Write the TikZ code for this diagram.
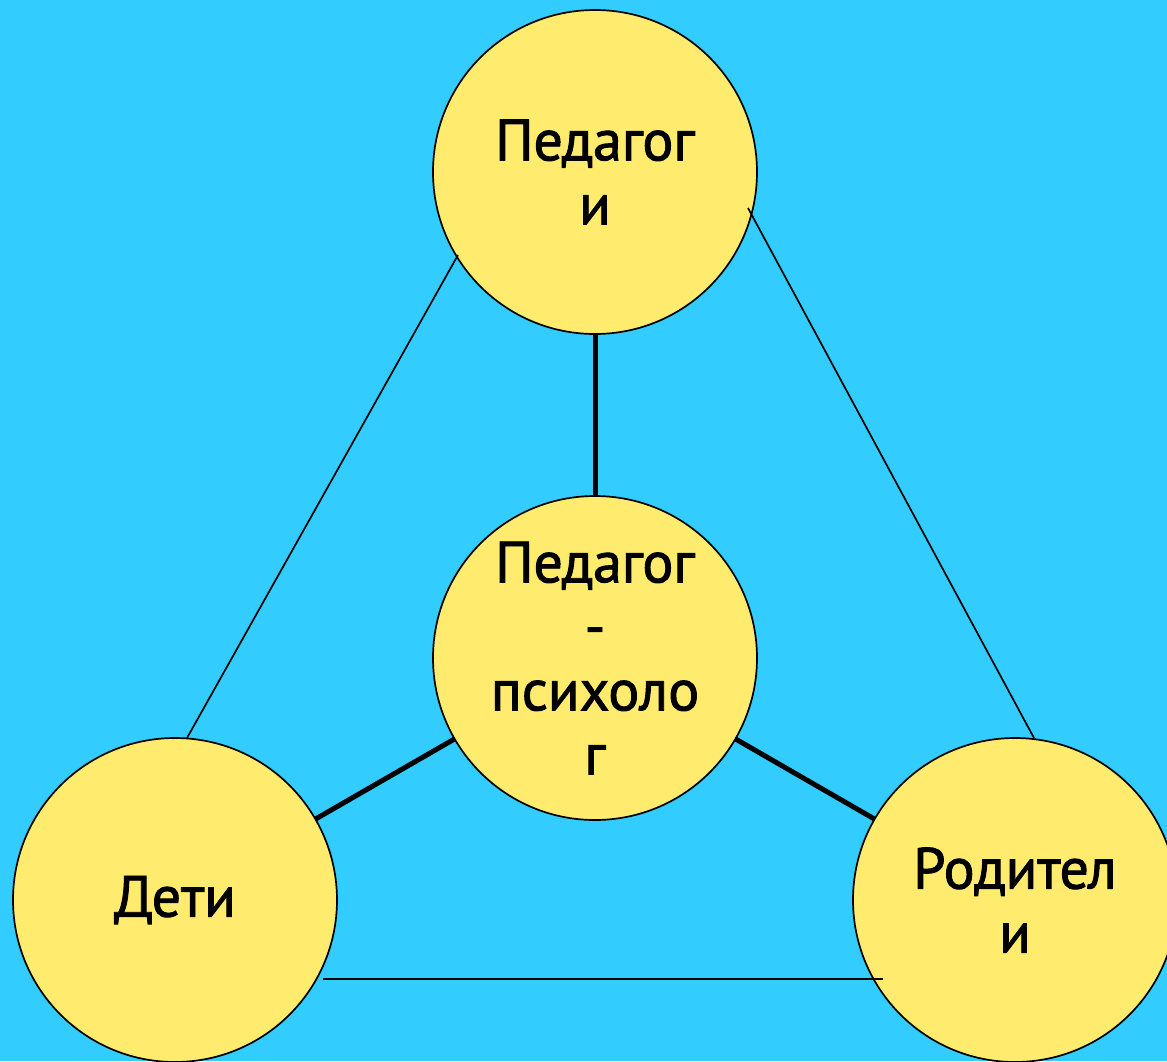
\documentclass[tikz,border=0pt]{standalone}
\usepackage{fontspec}
\setmainfont[FakeBold=1.6]{PT Sans}
\definecolor{bgcyan}{HTML}{33CCFF}
\definecolor{circyellow}{HTML}{FFEC6E}
\tikzset{
  bubble/.style={circle, draw=black, line width=1.7pt, fill=circyellow,
    minimum size=324pt, inner sep=0pt, outer sep=0pt, align=center,
    font=\fontsize{58}{64}\selectfont},
  thinlink/.style={draw=black, line width=1.7pt},
  thicklink/.style={draw=black, line width=5pt}
}
\begin{document}
\begin{tikzpicture}[x=1pt, y=-1pt]
  \fill[bgcyan] (0,0) rectangle (1167,1061);
  \useasboundingbox (0,0) rectangle (1167,1061);

  \node[bubble] (ped) at (595,172) {Педагог\\и};
  \node[bubble] (psy) at (595,658) {Педагог\\-\\психоло\\г};
  \node[bubble] (kids) at (175,900) {Дети};
  \node[bubble] (par) at (1015,900) {Родител\\и};

  \coordinate (pl) at ([shift={(-137,83)}]ped.center);
  \coordinate (kt) at ([shift={(12,-162)}]kids.center);
  \coordinate (pr) at ([shift={(153,36)}]ped.center);
  \coordinate (rt) at ([shift={(19,-162)}]par.center);
  \coordinate (kb) at ([shift={(148,79)}]kids.center);
  \coordinate (rb) at ([shift={(-132,79)}]par.center);

  \draw[thicklink] (ped) -- (psy);
  \draw[thicklink] (psy) -- (kids);
  \draw[thicklink] (psy) -- (par);

  \draw[thinlink] (pl) -- (kt);
  \draw[thinlink] (pr) -- (rt);
  \draw[thinlink] (kb) -- (rb);
\end{tikzpicture}
\end{document}
